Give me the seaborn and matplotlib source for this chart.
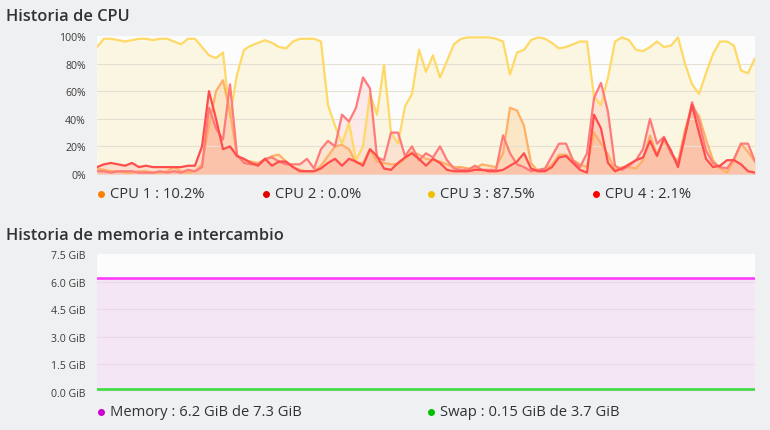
import matplotlib
matplotlib.use('Agg')
import matplotlib.pyplot as plt
from matplotlib.lines import Line2D
import seaborn as sns
import pandas as pd
import numpy as np

# Historial de CPU (porcentaje por muestra)
cpu1 = [4, 3, 2, 2, 1, 1, 2, 2, 1, 1, 2, 5, 2, 1, 2, 7, 35, 60, 68, 45,
        13, 10, 9, 8, 10, 13, 14, 9, 5, 3, 2, 2, 6, 13, 20, 21, 18, 8, 8, 18,
        9, 8, 7, 7, 11, 16, 14, 11, 10, 9, 7, 5, 5, 4, 4, 7, 6, 5, 15, 48,
        46, 35, 8, 2, 3, 7, 14, 14, 10, 7, 5, 30, 22, 14, 3, 5, 5, 4, 10, 28,
        14, 25, 15, 9, 32, 49, 42, 25, 10, 4, 1, 10, 22, 16, 9]
cpu2 = [2, 2, 1, 2, 2, 2, 1, 1, 1, 2, 1, 2, 1, 3, 2, 5, 48, 33, 25, 65,
        14, 8, 7, 7, 11, 12, 9, 7, 7, 7, 11, 4, 18, 24, 20, 43, 38, 48, 70, 62,
        12, 10, 30, 30, 13, 20, 10, 15, 12, 20, 10, 4, 3, 3, 6, 3, 3, 3, 28, 15,
        7, 5, 2, 3, 4, 13, 22, 22, 10, 5, 15, 55, 66, 45, 6, 3, 6, 10, 18, 40,
        22, 27, 15, 7, 28, 52, 38, 17, 8, 5, 4, 11, 22, 22, 9]
cpu3 = [92, 98, 98, 97, 96, 97, 98, 98, 97, 98, 98, 96, 94, 98, 98, 92, 86, 84, 88, 42,
        72, 90, 93, 95, 97, 95, 92, 91, 96, 98, 98, 98, 96, 50, 35, 22, 37, 10, 20, 58,
        43, 79, 30, 22, 49, 58, 90, 74, 86, 70, 82, 94, 98, 99, 99, 99, 99, 98, 96, 72,
        88, 90, 97, 99, 98, 95, 91, 92, 94, 96, 96, 56, 50, 70, 96, 99, 97, 90, 89, 92,
        96, 92, 93, 99, 80, 65, 58, 73, 87, 96, 96, 93, 75, 73, 84]
cpu4 = [5, 7, 8, 7, 6, 8, 5, 6, 5, 5, 5, 5, 5, 6, 6, 20, 60, 40, 18, 20,
        13, 11, 8, 6, 11, 6, 9, 9, 5, 2, 2, 2, 4, 8, 11, 6, 11, 9, 6, 18,
        13, 4, 3, 8, 12, 15, 11, 6, 11, 8, 3, 2, 2, 2, 3, 3, 2, 2, 3, 6,
        9, 15, 4, 2, 2, 5, 12, 13, 8, 3, 1, 43, 33, 8, 2, 4, 7, 10, 12, 24,
        13, 26, 17, 5, 28, 50, 30, 11, 5, 6, 10, 10, 7, 2, 1]
cpu_labels = ['CPU 1 : 10.2%', 'CPU 2 : 0.0%', 'CPU 3 : 87.5%', 'CPU 4 : 2.1%']
cpu_ticks = [0, 20, 40, 60, 80, 100]

# Historial de memoria (GiB), constante durante la ventana
mem_time = [0, 94]
memory_gib = [6.2, 6.2]
swap_gib = [0.18, 0.18]
mem_labels = ['Memory : 6.2 GiB de 7.3 GiB', 'Swap : 0.15 GiB de 3.7 GiB']
mem_ticks = [0.0, 1.5, 3.0, 4.5, 6.0, 7.5]

BG = '#eff0f1'
sns.set_theme(style='white')
plt.rcParams['font.family'] = ['Open Sans', 'Noto Sans', 'DejaVu Sans']

fig = plt.figure(figsize=(7.7, 4.31), dpi=100, facecolor=BG)
ax_cpu = fig.add_axes([97 / 770, 1 - 175 / 431, 658 / 770, 138 / 431])
ax_mem = fig.add_axes([97 / 770, 1 - 393 / 431, 658 / 770, 138 / 431])

cpu = pd.DataFrame({'t': np.arange(len(cpu1)), 'CPU 1': cpu1, 'CPU 2': cpu2,
                    'CPU 3': cpu3, 'CPU 4': cpu4})

# (columna, color linea, color relleno, alpha relleno, color punto)
estilos = [('CPU 3', '#ffd966', '#f5c400', 0.10, '#f0c000'),
           ('CPU 1', '#ffb066', '#ff8c1a', 0.14, '#ff8000'),
           ('CPU 2', '#ff7a7a', '#ff6060', 0.12, '#e00000'),
           ('CPU 4', '#ff4d4d', '#ff4040', 0.12, '#ff0000')]

for ax in (ax_cpu, ax_mem):
    ax.set_facecolor('#fcfcfc')
    for s in ax.spines.values():
        s.set_visible(False)
    ax.tick_params(axis='y', length=0, pad=8, labelsize=7.6, labelcolor='#3c3c3c')
    ax.set_xticks([])

for col, lc, fc, fa, _ in estilos:
    ax_cpu.fill_between(cpu['t'], cpu[col], 0, color=fc, alpha=fa, lw=0, zorder=1)
for col, lc, fc, fa, _ in estilos:
    sns.lineplot(data=cpu, x='t', y=col, color=lc, lw=1.6, ax=ax_cpu, zorder=3)

ax_cpu.set_xlim(0, len(cpu1) - 1)
ax_cpu.set_ylim(0, 100)
ax_cpu.set_yticks(cpu_ticks)
ax_cpu.set_yticklabels([f'{v}%' for v in cpu_ticks])
for v in cpu_ticks[1:-1]:
    ax_cpu.axhline(v, color='#e6e0d2', lw=0.8, zorder=2)
ax_cpu.set_xlabel('')
ax_cpu.set_ylabel('')

# Memoria e intercambio
mem = pd.DataFrame({'t': mem_time, 'Memory': memory_gib, 'Swap': swap_gib})
ax_mem.fill_between(mem['t'], mem['Memory'], 0, color='#f5e6f5', lw=0, zorder=1)
for v in mem_ticks[1:-1]:
    ax_mem.axhline(v, color='#ead8ea', lw=0.8, zorder=2)
sns.lineplot(data=mem, x='t', y='Memory', color='#ff3bff', lw=1.9, ax=ax_mem, zorder=3)
sns.lineplot(data=mem, x='t', y='Swap', color='#3ddc3d', lw=1.9, ax=ax_mem, zorder=3)
ax_mem.set_xlim(0, 94)
ax_mem.set_ylim(0, 7.5)
ax_mem.set_yticks(mem_ticks)
ax_mem.set_yticklabels([f'{v:.1f} GiB' for v in mem_ticks])
ax_mem.set_xlabel('')
ax_mem.set_ylabel('')

# Titulos
fig.text(6 / 770, 1 - 17 / 431, 'Historia de CPU', fontsize=11.8, fontweight='semibold',
         color='#2f3336', va='center', ha='left')
fig.text(6 / 770, 1 - 236 / 431, 'Historia de memoria e intercambio', fontsize=11.8,
         fontweight='semibold', color='#2f3336', va='center', ha='left')

# Leyendas manuales
def punto_y_texto(x_px, y_px, color, texto):
    fig.add_artist(Line2D([x_px / 770], [1 - y_px / 431], marker='o', ms=4,
                          color=color, lw=0, transform=fig.transFigure))
    fig.text((x_px + 9) / 770, 1 - y_px / 431, texto, fontsize=10.6, color='#2f3336',
             va='center', ha='left')

orden_leyenda = ['CPU 1', 'CPU 2', 'CPU 3', 'CPU 4']
puntos = {col: pc for col, _, _, _, pc in estilos}
for i, (col, lab) in enumerate(zip(orden_leyenda, cpu_labels)):
    punto_y_texto(101 + i * 165, 195, puntos[col], lab)

punto_y_texto(101, 413, '#cc00cc', mem_labels[0])
punto_y_texto(431, 413, '#00c000', mem_labels[1])

fig.savefig('out.png', dpi=100, facecolor=BG)
